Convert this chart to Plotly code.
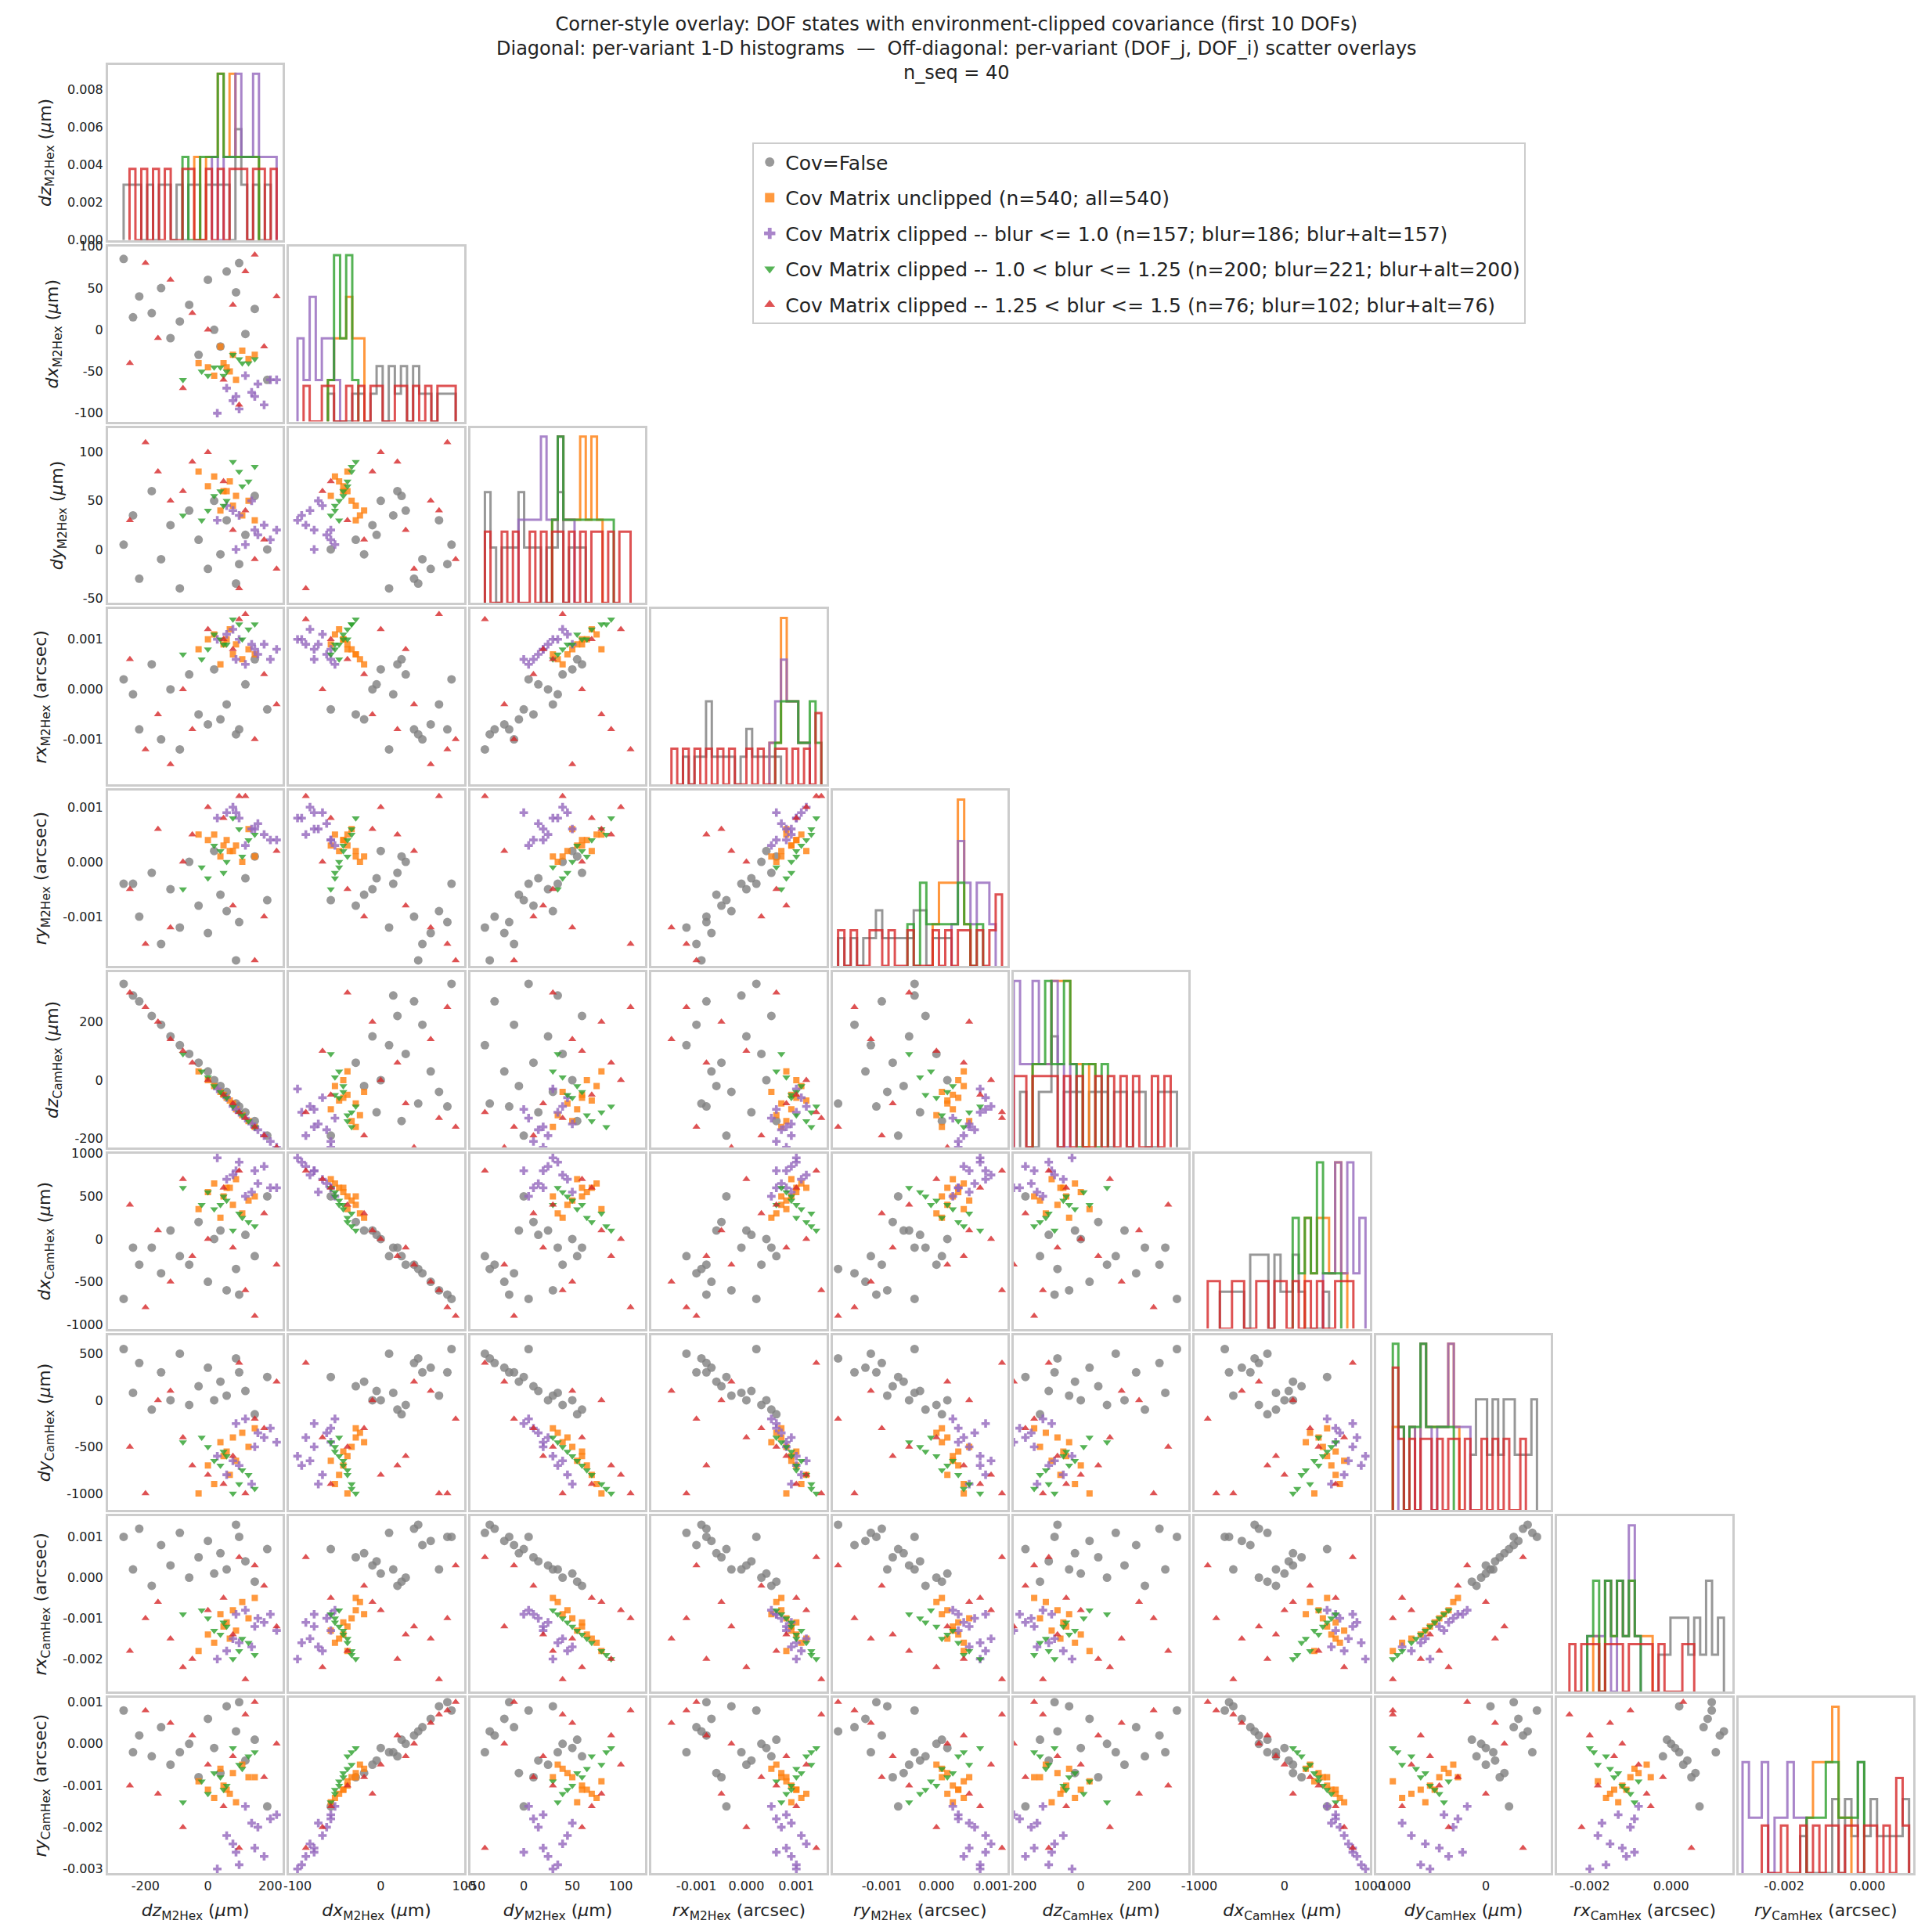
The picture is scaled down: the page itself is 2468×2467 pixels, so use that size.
import numpy as np
import plotly.graph_objects as go
from plotly.subplots import make_subplots

# columns: dzM2, dxM2, dyM2, rxM2(1e-4 arcsec), ryM2(1e-4), dzCam, dxCam, dyCam, rxCam(1e-4), ryCam(1e-4)
SCALE = [1, 1, 1, 1e-4, 1e-4, 1, 1, 1, 1e-4, 1e-4]

cov_false = [
    [-270, 85, 5, 2, -4, 330, -700, 550, 10, 8],
    [-220, 40, -30, -8, -10, 270, -300, 400, 12, 2],
    [-180, 20, 60, 5, -2, 220, -100, -100, -2, -3],
    [-150, 50, -10, -10, -15, 190, -400, 300, 8, 4],
    [-120, -10, 25, 0, -5, 150, 100, 0, 3, -5],
    [-90, 10, -40, -12, -12, 120, -200, 500, 11, -2],
    [-60, 30, 40, 3, 0, 90, -300, -50, 0, 0],
    [-30, -30, 10, -5, -8, 60, 200, 150, 5, -8],
    [0, 60, -20, -7, -13, 30, -500, 350, 9, 6],
    [20, 0, 50, 4, 2, 0, 0, 0, 1, -1],
    [40, -20, -5, -6, -6, -20, 100, 200, 6, -7],
    [60, 70, 30, -3, -9, -40, -600, 50, 2, 9],
    [90, 45, -35, -9, -18, -80, -350, 450, 13, 3],
    [120, -5, 15, 1, -3, -110, 50, 100, 4, -4],
    [150, 25, 55, 6, 1, -140, -200, -150, -1, 1],
    [190, -60, 0, -4, -7, -190, 500, 250, 7, -15],
    [-240, 15, 35, -1, -4, 290, -100, 80, 2, -2],
    [100, 80, -15, -8, -11, -90, -650, 300, 10, 10],
]
unclipped = [
    [50, -40, 60, 9, 3, -50, 500, -600, -12, -10],
    [80, -30, 45, 7, 2, -80, 400, -400, -8, -7],
    [20, -55, 75, 11, 5, -20, 650, -900, -16, -13],
    [110, -25, 35, 6, 0, -120, 300, -350, -6, -5],
    [0, -45, 65, 10, 4, 0, 550, -700, -14, -11],
    [130, -35, 50, 8, 6, -140, 450, -500, -10, -8],
    [70, -50, 70, 12, 2, -70, 600, -800, -15, -12],
    [40, -20, 40, 5, 1, -40, 250, -450, -9, -6],
    [90, -60, 55, 9, 3, -100, 700, -650, -13, -14],
    [-30, -40, 80, 8, 5, 30, 350, -1000, -18, -9],
    [150, -30, 30, 7, 1, -160, 500, -300, -5, -8],
    [60, -45, 60, 10, 4, -60, 600, -550, -11, -11],
]
clip_10 = [
    [150, -80, 20, 8, 6, -160, 800, -500, -12, -25],
    [100, -95, 35, 10, 8, -110, 900, -700, -16, -29],
    [200, -60, 10, 6, 4, -210, 600, -300, -9, -18],
    [60, -70, 45, 11, 9, -60, 700, -800, -18, -22],
    [180, -90, 25, 9, 5, -190, 850, -400, -11, -27],
    [120, -55, 5, 5, 3, -130, 500, -200, -8, -15],
    [80, -85, 40, 12, 10, -90, 750, -650, -15, -24],
    [160, -65, 15, 7, 7, -170, 650, -350, -10, -20],
    [30, -100, 30, 10, 8, -30, 950, -600, -20, -30],
    [140, -75, 50, 9, 6, -150, 550, -900, -17, -19],
    [220, -60, 20, 8, 4, -230, 600, -450, -13, -17],
    [90, -80, 0, 6, 9, -100, 800, -250, -9, -26],
]
clip_125 = [
    [40, -45, 60, 10, 2, -40, 400, -700, -14, -8],
    [100, -35, 80, 13, 6, -110, 300, -900, -18, -5],
    [0, -55, 40, 8, -3, 10, 550, -500, -10, -12],
    [130, -40, 70, 12, 4, -140, 200, -800, -16, -3],
    [60, -50, 50, 9, 0, -60, 450, -600, -12, -10],
    [-80, -60, 35, 7, -5, 90, 600, -450, -9, -14],
    [80, -30, 90, 14, 8, -90, 100, -1000, -20, -1],
    [20, -45, 55, 11, 3, -20, 350, -650, -13, -7],
    [110, -40, 65, 10, 1, -120, 250, -750, -15, -6],
    [50, -55, 45, 9, -2, -50, 500, -550, -11, -11],
    [150, -35, 85, 13, 5, -160, 150, -950, -19, -2],
    [-20, -50, 30, 6, -1, 30, 400, -400, -8, -9],
]
clip_15 = [
    [-200, 80, 110, -12, -15, 250, -800, -1000, -10, 8],
    [100, -90, -40, 14, 12, -110, 800, 400, 5, -25],
    [-50, 20, 90, -8, 5, 60, -200, -700, -20, 2],
    [180, -20, 10, 3, -10, -190, 300, -300, -2, -8],
    [-120, 60, 50, -15, -12, 140, -500, 100, -15, 5],
    [50, -60, 70, 10, 8, -50, 600, -900, -5, -15],
    [220, 40, -20, -3, 2, -230, -300, 200, -12, 0],
    [-250, -40, 30, 6, -5, 300, 400, -500, -18, -10],
    [0, 0, 100, 12, 10, 0, 0, -800, -8, -5],
    [150, 90, -10, -10, -18, -160, -900, -200, 3, 10],
    [-80, -70, 60, 0, 0, 100, 700, -400, -22, -20],
    [80, 30, 20, 8, -8, -80, -100, -600, -14, -3],
    [-160, -10, 80, -5, 6, 200, 100, 0, -6, -12],
    [120, 70, 40, 15, 12, -130, -600, -1000, -25, 7],
]

series = [
    ("Cov=False", cov_false, "#7f7f7f", "circle", 11),
    ("Cov Matrix unclipped (n=540; all=540)", unclipped, "#ff7f0e", "square", 8),
    ("Cov Matrix clipped -- blur <= 1.0 (n=157; blur=186; blur+alt=157)", clip_10, "#9467bd", "cross", 9),
    ("Cov Matrix clipped -- 1.0 < blur <= 1.25 (n=200; blur=221; blur+alt=200)", clip_125, "#2ca02c", "triangle-down", 9),
    ("Cov Matrix clipped -- 1.25 < blur <= 1.5 (n=76; blur=102; blur+alt=76)", clip_15, "#d62728", "triangle-up", 9),
]

labels = [
    "<i>dz</i><sub>M2Hex</sub> (<i>μ</i>m)", "<i>dx</i><sub>M2Hex</sub> (<i>μ</i>m)",
    "<i>dy</i><sub>M2Hex</sub> (<i>μ</i>m)", "<i>rx</i><sub>M2Hex</sub> (arcsec)",
    "<i>ry</i><sub>M2Hex</sub> (arcsec)", "<i>dz</i><sub>CamHex</sub> (<i>μ</i>m)",
    "<i>dx</i><sub>CamHex</sub> (<i>μ</i>m)", "<i>dy</i><sub>CamHex</sub> (<i>μ</i>m)",
    "<i>rx</i><sub>CamHex</sub> (arcsec)", "<i>ry</i><sub>CamHex</sub> (arcsec)",
]
ranges = [[-320, 240], [-110, 100], [-55, 125], [-0.0019, 0.0016], [-0.0019, 0.0013],
          [-230, 370], [-1050, 1000], [-1180, 700], [-0.0028, 0.0015], [-0.0031, 0.0011]]
xticks = [[-200, 0, 200], [-100, 0, 100], [-50, 0, 50, 100], [-0.001, 0, 0.001], [-0.001, 0, 0.001],
          [-200, 0, 200], [-1000, 0, 1000], [-1000, 0], [-0.002, 0], [-0.002, 0]]
yticks = [None, [-100, -50, 0, 50, 100], [-50, 0, 50, 100], [-0.001, 0, 0.001], [-0.001, 0, 0.001],
          [-200, 0, 200], [-1000, -500, 0, 500, 1000], [-1000, -500, 0, 500],
          [-0.002, -0.001, 0, 0.001], [-0.003, -0.002, -0.001, 0, 0.001]]
diag_ticks = [0, 0.002, 0.004, 0.006, 0.008]
N_BINS = 26


def fmt(v, small):
    return f"{v:.3f}" if small else f"{v:g}"


N = 10
data = {name: np.array(rows, float) * np.array(SCALE) for name, rows, *_ in series}
all_pts = np.vstack(list(data.values()))
edges = [np.linspace(all_pts[:, k].min(), all_pts[:, k].max(), N_BINS + 1) for k in range(N)]

fig = make_subplots(rows=N, cols=N, horizontal_spacing=0.0035, vertical_spacing=0.0035)

for name, rows, color, symbol, size in series:
    d = data[name]
    first = True
    for i in range(N):
        for j in range(i + 1):
            if i == j:
                h, e = np.histogram(d[:, i], bins=edges[i], density=True)
                nz = np.nonzero(h)[0]
                lo, hi = nz[0], nz[-1] + 1
                h, e = h[lo:hi], e[lo:hi + 1]
                xs = np.concatenate([[e[0]], e])
                ys = np.concatenate([[0], h, [0]])
                fig.add_trace(go.Scatter(x=xs, y=ys, mode="lines", line_shape="hv",
                                         line=dict(color=color, width=3), opacity=0.8, showlegend=False),
                              row=i + 1, col=j + 1)
            else:
                fig.add_trace(go.Scatter(x=d[:, j], y=d[:, i], mode="markers", name=name,
                                         marker=dict(color=color, symbol=symbol, size=size, opacity=0.8),
                                         showlegend=first, legendgroup=name),
                              row=i + 1, col=j + 1)
                first = False

frame = dict(showline=True, mirror=True, linecolor="#cccccc", linewidth=3, showgrid=False,
             zeroline=False, ticks="", tickfont=dict(size=16, color="#222"))
for i in range(N):
    for j in range(N):
        r, c = i + 1, j + 1
        if j > i:
            fig.update_xaxes(visible=False, row=r, col=c)
            fig.update_yaxes(visible=False, row=r, col=c)
            continue
        xsm = j in (3, 4, 8, 9)
        fig.update_xaxes(**frame, range=ranges[j], row=r, col=c,
                         tickvals=xticks[j], ticktext=[fmt(v, xsm) for v in xticks[j]],
                         showticklabels=(i == N - 1),
                         title_text=labels[j] if i == N - 1 else None, title_font=dict(size=22))
        if i == j:
            show = i == 0
            fig.update_yaxes(**frame, row=r, col=c, rangemode="tozero",
                             tickvals=diag_ticks, ticktext=[f"{v:.3f}" for v in diag_ticks],
                             showticklabels=show, title_text=labels[0] if show else None,
                             title_font=dict(size=22))
        else:
            ysm = i in (3, 4, 8, 9)
            fig.update_yaxes(**frame, range=ranges[i], row=r, col=c,
                             tickvals=yticks[i], ticktext=[fmt(v, ysm) for v in yticks[i]],
                             showticklabels=(j == 0),
                             title_text=labels[i] if j == 0 else None, title_font=dict(size=22))

fig.add_annotation(
    text="Corner-style overlay: DOF states with environment-clipped covariance (first 10 DOFs)<br>"
         "Diagonal: per-variant 1-D histograms  —  Off-diagonal: per-variant (DOF_j, DOF_i) scatter overlays<br>"
         "n_seq = 40",
    xref="paper", yref="paper", x=0.47, y=1.009, xanchor="center", yanchor="middle",
    showarrow=False, font=dict(size=24),
)

fig.update_layout(
    width=2468, height=2467,
    template="plotly_white",
    font=dict(family="DejaVu Sans", color="#222"),
    legend=dict(x=0.357, y=0.957, xanchor="left", yanchor="top", font=dict(size=25),
                bordercolor="#cccccc", borderwidth=2, bgcolor="white", itemsizing="constant"),
    margin=dict(l=130, r=13, t=75, b=82),
)

fig.write_html("out.html")
